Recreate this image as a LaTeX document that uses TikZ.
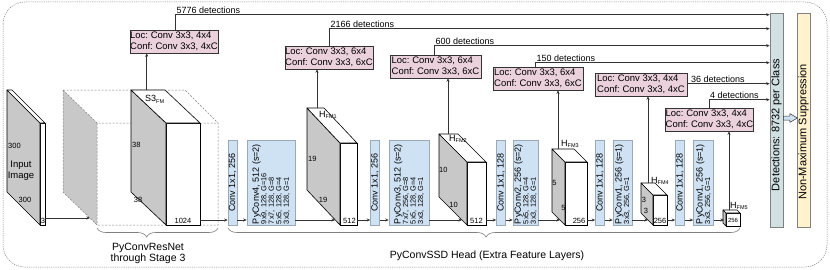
\documentclass[tikz,border=0pt]{standalone}
\usepackage{fontspec}
\setmainfont{Liberation Sans}
\frenchspacing
\usetikzlibrary{arrows.meta,decorations.pathreplacing,calc}
\definecolor{pinkfill}{HTML}{EAD1DC}
\definecolor{bluefill}{HTML}{CFE2F3}
\definecolor{bluedge}{HTML}{9AA8B8}
\definecolor{detfill}{HTML}{D0E0E3}
\definecolor{nmsfill}{HTML}{FFF2CC}
\definecolor{facegray}{HTML}{C8C8C8}
\definecolor{linegray}{HTML}{333333}
\newcommand\subfm[1]{{\fontsize{5.5}{6}\selectfont\raisebox{-1.8pt}{#1}}}
\newcommand\fmcube[7]{%
  \node[fmface, minimum width=#4, minimum height=#5, anchor=north west] (#1) at (#2,#3) {};
  \draw[fmedge, fill=facegray] (#1.north west) -- ++(-#6,-#7) -- ++(0,#5) -- (#1.south west) -- cycle;
  \draw[fmedge, fill=white] (#1.north west) -- ++(-#6,-#7) -- ++(#4,0) -- (#1.north east) -- cycle;}
\newcommand\pyc[2]{\rotatebox{90}{\parbox{83pt}{\raggedright\fontsize{9}{9}\selectfont #1\\\fontsize{7.4}{7.5}\selectfont #2\par}}}
\begin{document}
\begin{tikzpicture}[x=1pt,y=-1pt,
  font=\fontsize{9}{10.5}\selectfont,
  arr/.style={-{Stealth[length=3.5pt,width=3pt]}, line width=0.6pt, draw=linegray},
  fmface/.style={draw=black, fill=white, line width=0.6pt, inner sep=0pt, outer sep=0pt},
  fmedge/.style={draw=black, line width=0.6pt, line join=round},
  pinkbox/.style={draw=linegray, fill=pinkfill, line width=0.6pt, inner sep=0pt, align=left, minimum height=23, font=\fontsize{9.5}{11}\selectfont},
  bluebox/.style={draw=bluedge, fill=bluefill, line width=0.6pt, inner sep=0pt, minimum height=85},
  lab/.style={inner sep=0pt, font=\fontsize{7.5}{8}\selectfont},
  hlab/.style={inner sep=0pt, anchor=west, font=\fontsize{9}{10}\selectfont},
  dbox/.style={draw=gray, dash pattern=on 2pt off 1.5pt, line width=0.5pt},
  bracestyle/.style={draw=gray, line width=0.6pt, decorate},
  sidebox/.style={draw=gray, line width=0.6pt, minimum width=13, minimum height=214, inner sep=0pt, font=\fontsize{11}{12}\selectfont},
]
\useasboundingbox (0,0) rectangle (830,270);
% outer frame
\draw[draw=gray, dash pattern=on 1.2pt off 1pt, line width=0.5pt, rounded corners=22pt] (3,2) rectangle (827,267);

% input image
\fmcube{inimg}{40}{123}{5}{102}{33}{33}
\node[lab, anchor=west] (in300a) at (8,146) {300};
\node[font=\fontsize{9.5}{11}\selectfont, align=center, inner sep=0pt] (inlbl) at (21,171) {Input\\Image};
\node[lab] (in300b) at (25,199.5) {300};
\node[lab] (in3) at (43,220.5) {3};

% PyConvResNet dashed block
\fill[facegray] (63,90) -- (97,123) -- (97,225) -- (63,192) -- cycle;
\draw[dbox] (63,90) -- (185,90) -- (218,123) -- (218,225) -- (97,225) -- (63,192) -- cycle;
\draw[dbox] (63,90) -- (97,123) -- (218,123) (97,123) -- (97,225);
\coordinate (resin) at (90,218);
\fmcube{s3}{166}{123}{34}{102}{35}{33}
\node[hlab] (s3lbl) at (145,99) {S3\subfm{FM}};
\node[lab, anchor=west] (s3a) at (132,145) {38};
\node[lab] (s3b) at (138,199.5) {38};
\node[lab] (s3c) at (183,220.5) {1024};

% feature maps
\fmcube{fm1}{340}{143}{17}{82}{33}{35}
\node[hlab] (fm1lbl) at (319,115) {H\subfm{FM1}};
\node[lab, anchor=west] (fm1a) at (308,158.5) {19};
\node[lab] (fm1b) at (323,200) {19};
\node[lab] (fm1c) at (349.5,220.5) {512};

\fmcube{fm2}{467}{162}{19}{63}{28}{28}
\node[hlab] (fm2lbl) at (449,139) {H\subfm{FM2}};
\node[lab, anchor=west] (fm2a) at (439,170) {10};
\node[lab] (fm2b) at (453.5,205) {10};
\node[lab] (fm2c) at (476.5,221) {512};

\fmcube{fm3}{565}{162}{22}{63}{13}{13}
\node[hlab] (fm3lbl) at (561,144) {H\subfm{FM3}};
\node[lab] (fm3a) at (554.5,183) {5};
\node[lab] (fm3b) at (563.5,208) {5};
\node[lab] (fm3c) at (579,221) {256};

\fmcube{fm4}{653}{195}{14}{30}{12}{12}
\node[hlab] (fm4lbl) at (651,181) {H\subfm{FM4}};
\node[lab] (fm4a) at (644,200) {3};
\node[lab] (fm4b) at (646,211) {3};
\node[lab] (fm4c) at (660,221) {256};

\fmcube{fm5}{726}{213}{14}{13}{3}{3}
\node[hlab] (fm5lbl) at (730,206) {H\subfm{FM5}};
\node[lab, font=\fontsize{6}{6}\selectfont] (fm5c) at (733,220) {256};

% blue layer boxes
\node[bluebox, minimum width=9] (c1) at (232.5,182.5) {\rotatebox{90}{Conv 1x1, 256}};
\node[bluebox, minimum width=48] (py4) at (271,182.5) {\pyc{PyConv4, 512 (s=2)}{9x9, 128, G=16\\7x7, 128, G=8\\5x5, 128, G=4\\3x3, 128, G=1}};
\node[bluebox, minimum width=9] (c2) at (375,182.5) {\rotatebox{90}{Conv 1x1, 256}};
\node[bluebox, minimum width=40] (py3) at (409,182.5) {\pyc{PyConv3, 512 (s=2)}{7x7, 256, G=8\\5x5, 128, G=4\\3x3, 128, G=1}};
\node[bluebox, minimum width=9] (c3) at (501,182.5) {\rotatebox{90}{Conv 1x1, 128}};
\node[bluebox, minimum width=25] (py2) at (525.5,182.5) {\pyc{PyConv2, 256 (s=2)}{5x5, 128, G=4\\3x3, 128, G=1}};
\node[bluebox, minimum width=9] (c4) at (600,182.5) {\rotatebox{90}{Conv 1x1, 128}};
\node[bluebox, minimum width=19] (py1a) at (622.5,182.5) {\pyc{PyConv1, 256 (s=1)}{3x3, 256, G=1}};
\node[bluebox, minimum width=9] (c5) at (680,182.5) {\rotatebox{90}{Conv 1x1, 128}};
\node[bluebox, minimum width=20] (py1b) at (703.5,182.5) {\pyc{PyConv1, 256 (s=1)}{3x3, 256, G=1}};

% horizontal flow
\coordinate (ya) at (0,220);
\coordinate (yb) at (0,218);
\draw[arr] (inimg.east |- yb) -- (resin);
\draw[arr] (s3.east |- ya) -- (c1.west |- ya);
\draw[arr] (c1.east |- ya) -- (py4.west |- ya);
\draw[arr] (py4.east |- ya) -- ($(fm1.west |- ya)+(-5,0)$);
\draw[arr] (fm1.east |- ya) -- (c2.west |- ya);
\draw[arr] (c2.east |- ya) -- (py3.west |- ya);
\draw[arr] (py3.east |- ya) -- ($(fm2.west |- ya)+(-5,0)$);
\draw[arr] (fm2.east |- ya) -- (c3.west |- ya);
\draw[arr] (c3.east |- ya) -- (py2.west |- ya);
\draw[arr] (py2.east |- ya) -- ($(fm3.west |- ya)+(-5,0)$);
\draw[arr] (fm3.east |- ya) -- (c4.west |- ya);
\draw[arr] (c4.east |- ya) -- (py1a.west |- ya);
\draw[arr] (py1a.east |- ya) -- ($(fm4.west |- ya)+(-5,0)$);
\draw[arr] (fm4.east |- ya) -- (c5.west |- ya);
\draw[arr] (c5.east |- ya) -- (py1b.west |- ya);
\draw[arr] (py1b.east |- ya) -- ($(fm5.west |- ya)+(-2,0)$);

% detection heads
\node[pinkbox, minimum width=88] (p1) at (174,41.5) {Loc: Conv 3x3, 4x4\\Conf: Conv 3x3, 4xC};
\node[pinkbox, minimum width=88] (p2) at (329,57.5) {Loc: Conv 3x3, 6x4\\Conf: Conv 3x3, 6xC};
\node[pinkbox, minimum width=91] (p3) at (435.5,66.5) {Loc: Conv 3x3, 6x4\\Conf: Conv 3x3, 6xC};
\node[pinkbox, minimum width=90] (p4) at (538,78.5) {Loc: Conv 3x3, 6x4\\Conf: Conv 3x3, 6xC};
\node[pinkbox, minimum width=92] (p5) at (641,84.5) {Loc: Conv 3x3, 4x4\\Conf: Conv 3x3, 4xC};
\node[pinkbox, minimum width=88] (p6) at (709.5,119.5) {Loc: Conv 3x3, 4x4\\Conf: Conv 3x3, 4xC};

\draw[arr] ($(s3.north west)+(-19.3,-33)$) coordinate (u1) -- (u1 |- p1.south);
\draw[arr] ($(fm1.north west)+(-23,-35)$) coordinate (u2) -- (u2 |- p2.south);
\draw[arr] ($(fm2.north west)+(-19,-28)$) coordinate (u3) -- (u3 |- p3.south);
\draw[arr] ($(fm3.north west)+(-7,-13)$) coordinate (u4) -- (u4 |- p4.south);
\draw[arr] ($(fm4.north west)+(-5,-12)$) coordinate (u5) -- (u5 |- p5.south);
\draw[arr] ($(fm5.north west)+(3,-3)$) coordinate (u6) -- (u6 |- p6.south);

% detections / NMS
\node[sidebox, fill=detfill] (det) at (776.5,120) {\rotatebox{90}{\kern-10pt Detections: 8732 per Class}};
\node[sidebox, fill=nmsfill] (nms) at (803.5,120) {\rotatebox{90}{Non-Maximum Suppression\kern24pt}};
\draw[draw=linegray, fill=bluefill, line width=0.5pt, line join=round] ($(det.east)+(0,-4)$) -- ++(6.5,0) -- ++(0,-2.5) -- ++(7.5,4.5) -- ++(-7.5,4.5) -- ++(0,-2.5) -- ++(-6.5,0) -- cycle;

\draw[arr] ($(p1.north west)+(46,0)$) -- ++(0,-15) coordinate (k1) -- (k1 -| det.west);
\node[anchor=south west, inner sep=0.6pt] (t1) at (k1) {5776 detections};
\draw[arr] ($(p2.north west)+(45,0)$) -- ++(0,-17) coordinate (k2) -- (k2 -| det.west);
\node[anchor=south west, inner sep=0.6pt] (t2) at (k2) {2166 detections};
\draw[arr] ($(p3.north west)+(45,0)$) -- ++(0,-9) coordinate (k3) -- (k3 -| det.west);
\node[anchor=south west, inner sep=0.6pt] (t3) at (k3) {600 detections};
\draw[arr] ($(p4.north west)+(43,0)$) -- ++(0,-4) coordinate (k4) -- (k4 -| det.west);
\node[anchor=south west, inner sep=0.6pt] (t4) at (k4) {150 detections};
\draw[arr] ($(p5.north east)+(0,11)$) coordinate (k5) -- (k5 -| det.west);
\node[anchor=south west, inner sep=0.6pt] (t5) at ($(k5)+(3,0)$) {36 detections};
\draw[arr] ($(p6.north west)+(44,0)$) -- ++(0,-8) coordinate (k6) -- (k6 -| det.west);
\node[anchor=south west, inner sep=0.6pt] (t6) at (k6) {4 detections};

% braces
\draw[bracestyle, decoration={brace, mirror, amplitude=9pt, aspect=0.41}] (97,228) coordinate (b1a) -- (218,228) coordinate (b1b);
\draw[bracestyle, decoration={brace, mirror, amplitude=9pt, aspect=0.504}] (228,228) coordinate (b2a) -- (740,228) coordinate (b2b);
\node[font=\fontsize{10.5}{11.5}\selectfont, align=center, inner sep=0pt] (lbl1) at (148,253.5) {PyConvResNet\\through Stage 3};
\node[font=\fontsize{10.5}{12}\selectfont, inner sep=0pt] (lbl2) at (487,256) {PyConvSSD Head (Extra Feature Layers)};
\end{tikzpicture}
\end{document}
